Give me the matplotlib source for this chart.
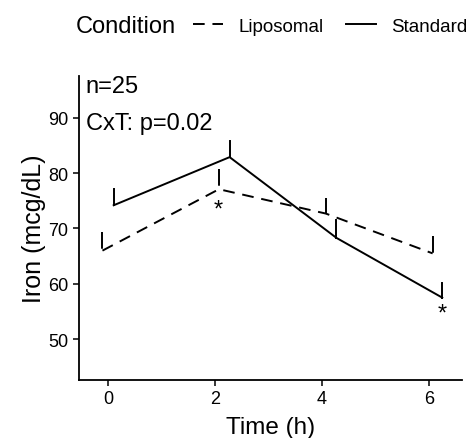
import matplotlib
matplotlib.use("Agg")
import matplotlib.pyplot as plt

plt.rcParams['font.family'] = ['Liberation Sans', 'DejaVu Sans']

# plotted (dodged) time positions, means and upper SE
lipo_time = [-0.11, 2.07, 4.07, 6.07]
lipo_mean = [66.0, 77.1, 72.7, 65.5]
lipo_se = [3.3, 3.7, 2.9, 3.1]

std_time = [0.10, 2.27, 4.27, 6.25]
std_mean = [74.2, 82.9, 68.3, 57.5]
std_se = [2.9, 2.9, 3.2, 2.6]

# significance stars (x, y)
star_x = [2.06, 6.25]
star_y = [73.4, 54.6]

lw = 1.4
dash = (0, (6, 4))
bar_dash = (0, (8.6, 3))

fig = plt.figure(figsize=(4.7, 4.39), dpi=100)
ax = fig.add_axes([0.168, 0.132, 0.815, 0.693])

# lines
ax.plot(lipo_time, lipo_mean, color='black', lw=lw, linestyle=dash, label='Liposomal')
ax.plot(std_time, std_mean, color='black', lw=lw, linestyle='-', label='Standard')

# upper-only error bars without caps, drawn from the top down
for t, m, e in zip(lipo_time, lipo_mean, lipo_se):
    ax.plot([t, t], [m + e, m], color='black', lw=lw, linestyle=bar_dash)
for t, m, e in zip(std_time, std_mean, std_se):
    ax.plot([t, t], [m + e, m], color='black', lw=lw, linestyle='-')

for x, y in zip(star_x, star_y):
    ax.text(x, y, '*', ha='center', va='center', fontsize=17)

ax.text(-0.42, 95.7, 'n=25', ha='left', va='center', fontsize=17)
ax.text(-0.42, 89.0, 'CxT: p=0.02', ha='left', va='center', fontsize=17)

ax.set_xlim(-0.55, 6.62)
ax.set_ylim(42.6, 97.6)
ax.set_xticks([0, 2, 4, 6])
ax.set_yticks([50, 60, 70, 80, 90])
ax.tick_params(labelsize=13, length=4, width=1.1, colors='black')

for s in ['top', 'right']:
    ax.spines[s].set_visible(False)
for s in ['left', 'bottom']:
    ax.spines[s].set_linewidth(1.3)

ax.set_xlabel('Time (h)', fontsize=17.5, labelpad=6)
ax.set_ylabel('Iron (mcg/dL)', fontsize=18, labelpad=2)

# legend on top, title inline
fig.text(76 / 470, 1 - 27 / 439, 'Condition', ha='left', va='center', fontsize=17)
handles, labels = ax.get_legend_handles_labels()
fig.legend(handles, labels, loc='center left', bbox_to_anchor=(193 / 470, 1 - 27 / 439),
           ncol=2, frameon=False, fontsize=13.5, handlelength=1.6,
           handletextpad=0.85, columnspacing=1.15, borderaxespad=0, borderpad=0)

fig.savefig('out.png', dpi=100)
